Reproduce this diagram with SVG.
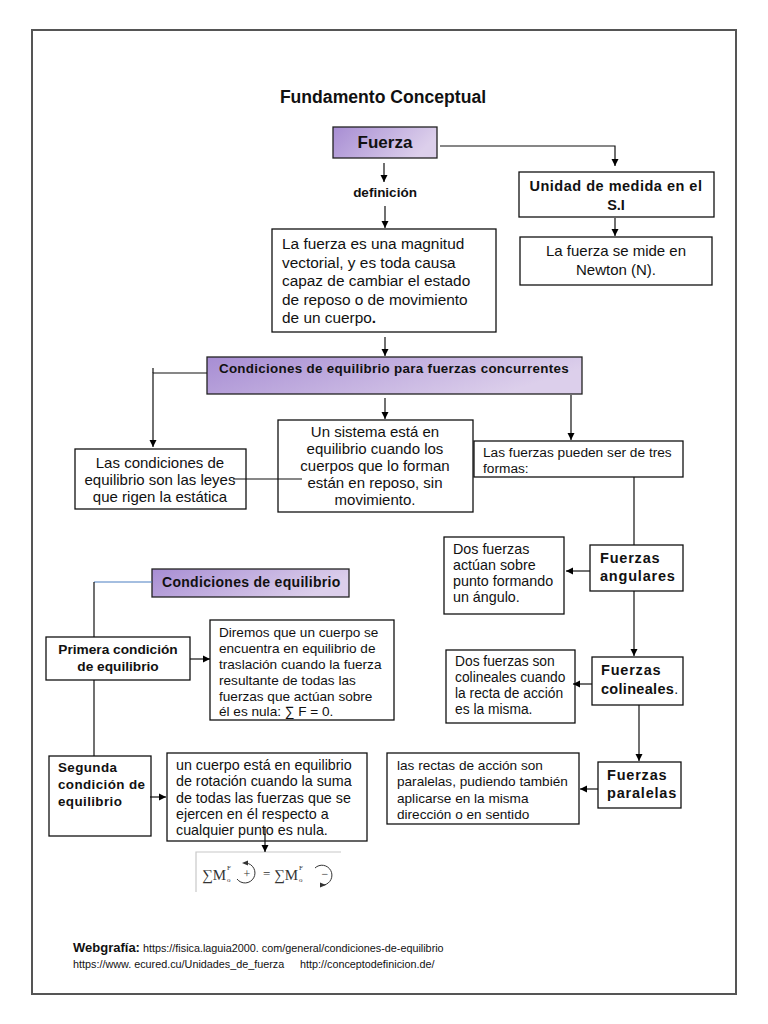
<svg xmlns="http://www.w3.org/2000/svg" width="768" height="1024" viewBox="0 0 768 1024">
<defs>
<linearGradient id="purp" x1="0" y1="0" x2="1" y2="0.3">
<stop offset="0" stop-color="#a78dd3"/>
<stop offset="1" stop-color="#dccfeb"/>
</linearGradient>
<marker id="ah" markerUnits="userSpaceOnUse" markerWidth="8" markerHeight="8" refX="7" refY="4" orient="auto">
<path d="M0,0.5 L7,4 L0,7.5 z" fill="#000"/>
</marker>
<style>
.box{fill:#fff;stroke:#111;stroke-width:1.3}
.pbox{fill:url(#purp);stroke:#222;stroke-width:1.3}
.t{font-family:"Liberation Sans",Arial,sans-serif;fill:#111}
.b{font-weight:bold}
.c{text-anchor:middle}
.lb{font-weight:bold;font-size:14.5px;letter-spacing:0.8px}
.ln{fill:none;stroke:#111;stroke-width:1.2}
.ar{fill:none;stroke:#111;stroke-width:1.2;marker-end:url(#ah)}
.m{font-family:"Liberation Serif",serif;fill:#333}
</style>
</defs>
<rect x="0" y="0" width="768" height="1024" fill="#fff"/>
<rect x="32" y="30" width="704" height="964" fill="none" stroke="#555" stroke-width="2"/>

<text class="t b c" x="383" y="103" font-size="17.6">Fundamento Conceptual</text>

<g id="fuerza">
<rect class="pbox" x="333" y="127" width="104" height="31"/>
<text class="t b c" x="385" y="148" font-size="17">Fuerza</text>
</g>

<g id="definicion">
<text class="t b c" x="385" y="197" font-size="13.5">definición</text>
</g>

<g id="unidad">
<rect class="box" x="519" y="172" width="195" height="45"/>
<text class="t b c" x="616" y="191" font-size="14.5" letter-spacing="0.5">Unidad de medida en el</text>
<text class="t b c" x="616" y="210" font-size="14.5">S.I</text>
</g>

<g id="newton">
<rect class="box" x="520" y="237" width="192" height="48"/>
<text class="t c" x="616" y="256" font-size="15">La fuerza se mide en</text>
<text class="t c" x="616" y="275" font-size="15">Newton (N).</text>
</g>

<g id="def-texto">
<rect class="box" x="272" y="229" width="224" height="103"/>
<text class="t" x="282" y="249" font-size="15.4">La fuerza es una magnitud</text>
<text class="t" x="282" y="268" font-size="15.4">vectorial, y es toda causa</text>
<text class="t" x="282" y="286" font-size="15.4">capaz de cambiar el estado</text>
<text class="t" x="282" y="305" font-size="15.4">de reposo o de movimiento</text>
<text class="t" x="282" y="323" font-size="15.4">de un cuerpo<tspan font-weight="bold">.</tspan></text>
</g>

<g id="concurrentes">
<rect class="pbox" x="207" y="357" width="375" height="37"/>
<text class="t b c" x="394" y="373" font-size="13.4" letter-spacing="0.3">Condiciones de equilibrio para fuerzas concurrentes</text>
</g>

<g id="leyes">
<rect class="box" x="75" y="449" width="171" height="60"/>
<text class="t c" x="160" y="468" font-size="15">Las condiciones de</text>
<text class="t c" x="160" y="485" font-size="15">equilibrio son las leyes</text>
<text class="t c" x="160" y="502" font-size="15">que rigen la estática</text>
</g>

<g id="sistema">
<rect class="box" x="278" y="420" width="195" height="92"/>
<text class="t c" x="375" y="437" font-size="15">Un sistema está en</text>
<text class="t c" x="375" y="454" font-size="15">equilibrio cuando los</text>
<text class="t c" x="375" y="471" font-size="15">cuerpos que lo forman</text>
<text class="t c" x="375" y="488" font-size="15">están en reposo, sin</text>
<text class="t c" x="375" y="505" font-size="15">movimiento.</text>
</g>

<g id="tres-formas">
<rect class="box" x="474" y="441" width="209" height="36"/>
<text class="t" x="483" y="457" font-size="13.7">Las fuerzas pueden ser de tres</text>
<text class="t" x="483" y="473" font-size="13.7">formas:</text>
</g>

<g id="angulares">
<rect class="box" x="590" y="545" width="93" height="46"/>
<text class="t lb" x="600" y="563">Fuerzas</text>
<text class="t lb" x="600" y="581">angulares</text>
</g>

<g id="angulares-def">
<rect class="box" x="444" y="537" width="120" height="77"/>
<text class="t" x="453" y="554" font-size="14.3">Dos fuerzas</text>
<text class="t" x="453" y="570" font-size="14.3">actúan sobre</text>
<text class="t" x="453" y="586" font-size="14.3">punto formando</text>
<text class="t" x="453" y="602" font-size="14.3">un ángulo.</text>
</g>

<g id="colineales">
<rect class="box" x="592" y="657" width="91" height="48"/>
<text class="t lb" x="601" y="675">Fuerzas</text>
<text class="t" x="601" y="694"><tspan class="lb" style="letter-spacing:0.3px">colineales</tspan><tspan font-size="14">.</tspan></text>
</g>

<g id="colineales-def">
<rect class="box" x="446" y="650" width="129" height="73"/>
<text class="t" x="455" y="666" font-size="13.8">Dos fuerzas son</text>
<text class="t" x="455" y="682" font-size="13.8">colineales cuando</text>
<text class="t" x="455" y="698" font-size="13.8">la recta de acción</text>
<text class="t" x="455" y="714" font-size="13.8">es la misma.</text>
</g>

<g id="paralelas">
<rect class="box" x="598" y="762" width="83" height="46"/>
<text class="t lb" x="607" y="780">Fuerzas</text>
<text class="t lb" x="607" y="798">paralelas</text>
</g>

<g id="paralelas-def">
<rect class="box" x="387" y="753" width="192" height="71"/>
<text class="t" x="397" y="770" font-size="13.6">las rectas de acción son</text>
<text class="t" x="397" y="786" font-size="13.6">paralelas, pudiendo también</text>
<text class="t" x="397" y="803" font-size="13.6">aplicarse en la misma</text>
<text class="t" x="397" y="819" font-size="13.6">dirección o en sentido</text>
</g>

<g id="cond-equilibrio">
<rect class="pbox" x="152" y="569" width="197" height="28"/>
<text class="t b" x="162" y="587" font-size="14" letter-spacing="0.3">Condiciones de equilibrio</text>
</g>

<g id="primera">
<rect class="box" x="46" y="637" width="144" height="43"/>
<text class="t b c" x="118" y="654" font-size="13.7">Primera condición</text>
<text class="t b c" x="118" y="671" font-size="13.7">de equilibrio</text>
</g>

<g id="primera-def">
<rect class="box" x="210" y="620" width="184" height="100"/>
<text class="t" x="219" y="637" font-size="13.6">Diremos que un cuerpo se</text>
<text class="t" x="219" y="653" font-size="13.6">encuentra en equilibrio de</text>
<text class="t" x="219" y="669" font-size="13.6">traslación cuando la fuerza</text>
<text class="t" x="219" y="685" font-size="13.6">resultante de todas las</text>
<text class="t" x="219" y="701" font-size="13.6">fuerzas que actúan sobre</text>
<text class="t" x="219" y="716" font-size="13.6">él es nula: ∑ F = 0.</text>
</g>

<g id="segunda">
<rect class="box" x="49" y="756" width="102" height="80"/>
<text class="t b" x="58" y="772" font-size="13.4" letter-spacing="0.4">Segunda</text>
<text class="t b" x="58" y="789" font-size="13.4" letter-spacing="0.4">condición de</text>
<text class="t b" x="58" y="806" font-size="13.4" letter-spacing="0.4">equilibrio</text>
</g>

<g id="segunda-def">
<rect class="box" x="167" y="753" width="200" height="88"/>
<text class="t" x="176" y="770" font-size="14.3">un cuerpo está en equilibrio</text>
<text class="t" x="176" y="786" font-size="14.3">de rotación cuando la suma</text>
<text class="t" x="176" y="803" font-size="14.3">de todas las fuerzas que se</text>
<text class="t" x="176" y="819" font-size="14.3">ejercen en él respecto a</text>
<text class="t" x="176" y="835" font-size="14.3">cualquier punto es nula.</text>
</g>

<g id="formula">
<polyline points="196,892 196,852 341,852" fill="none" stroke="#c8c8c8" stroke-width="1.2"/>
<text class="m" x="202" y="880" font-size="15">∑M</text>
<text class="m" x="227" y="870" font-size="7">F</text>
<text class="m" x="227" y="882" font-size="7">o</text>
<path d="M246,863 A10,10 0 1 1 237,879" fill="none" stroke="#333" stroke-width="1"/>
<path d="M242,863 L248,860.5 L248,865.5 z" fill="#333"/>
<text class="m" x="247" y="878" font-size="12" text-anchor="middle">+</text>
<text class="m" x="263" y="878" font-size="13">=</text>
<text class="m" x="274" y="880" font-size="15">∑M</text>
<text class="m" x="299" y="870" font-size="7">F</text>
<text class="m" x="299" y="882" font-size="7">o</text>
<path d="M315,868 A10,10 0 1 1 324,885" fill="none" stroke="#333" stroke-width="1"/>
<path d="M320,885 L326,882.5 L326,887.5 z" fill="#333" transform="rotate(180 323 885)"/>
<text class="m" x="325" y="878" font-size="12" text-anchor="middle">−</text>
</g>

<g id="webgrafia">
<text class="t" x="73" y="952" font-size="10.8"><tspan font-weight="bold" font-size="13">Webgrafía:</tspan> https://fisica.laguia2000. com/general/condiciones-de-equilibrio</text>
<text class="t" x="73" y="968" font-size="10.8">https://www. ecured.cu/Unidades_de_fuerza</text>
<text class="t" x="300" y="968" font-size="10.8">http://conceptodefinicion.de/</text>
</g>

<g id="connectors">
<polyline class="ar" points="440,146 615,146 615,166"/>
<line class="ar" x1="384" y1="163" x2="384" y2="182"/>
<line class="ar" x1="385" y1="206" x2="385" y2="228"/>
<line class="ar" x1="615" y1="218" x2="615" y2="236"/>
<line class="ar" x1="385" y1="337" x2="385" y2="356"/>
<polyline class="ar" points="207,373 153,373 153,447"/>
<line class="ln" x1="153" y1="368" x2="153" y2="373"/>
<line class="ar" x1="385" y1="398" x2="385" y2="419"/>
<line class="ar" x1="571" y1="395" x2="571" y2="440"/>
<line class="ln" x1="233" y1="479" x2="302" y2="479"/>
<line class="ln" x1="634" y1="477" x2="634" y2="545"/>
<line class="ar" x1="590" y1="571" x2="566" y2="571"/>
<line class="ar" x1="634" y1="591" x2="634" y2="656"/>
<line class="ar" x1="592" y1="684" x2="573" y2="684"/>
<line class="ar" x1="639" y1="705" x2="639" y2="761"/>
<line class="ar" x1="598" y1="789" x2="580" y2="789"/>
<line x1="152" y1="582" x2="94" y2="582" stroke="#4a7fc1" stroke-width="1.2"/>
<line class="ln" x1="94" y1="582" x2="94" y2="637"/>
<line class="ln" x1="94" y1="680" x2="94" y2="756"/>
<line class="ar" x1="190" y1="659" x2="210" y2="659"/>
<line class="ar" x1="150" y1="797" x2="166" y2="797"/>
<line class="ar" x1="265" y1="827" x2="265" y2="852"/>
</g>
</svg>
